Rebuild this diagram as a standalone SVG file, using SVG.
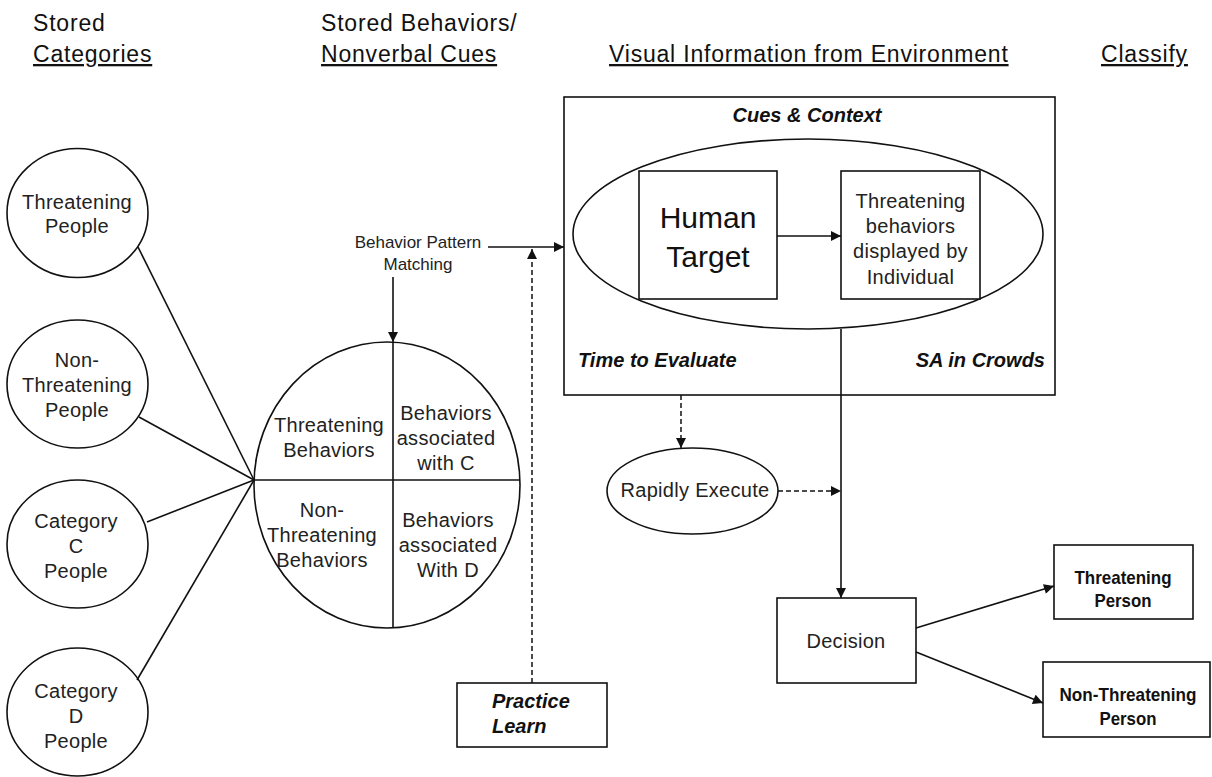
<svg xmlns="http://www.w3.org/2000/svg" width="1212" height="777" viewBox="0 0 1212 777">
  <style>
    .bg { fill: #ffffff; }
    .shape { fill: #ffffff; stroke: #111; stroke-width: 1.6; }
    .line { fill: none; stroke: #111; stroke-width: 1.6; }
    .dash { fill: none; stroke: #111; stroke-width: 1.5; stroke-dasharray: 5 3; }
    text { fill: #111; font-family: "Liberation Sans", Arial, sans-serif; }
    .head { font-size: 23px; letter-spacing: 0.8px; }
    .ul { text-decoration: underline; }
    .txt { font-size: 20px; letter-spacing: 0.3px; text-anchor: middle; fill: #222; }
    .big { font-size: 30px; text-anchor: middle; }
    .small { font-size: 17px; text-anchor: middle; fill: #222; }
    .bi { font-size: 20px; font-weight: bold; font-style: italic; }
    .bold { font-size: 19px; font-weight: bold; text-anchor: middle; }
  </style>
  <defs>
    <marker id="arrow" viewBox="0 0 10 10" refX="10" refY="5" markerWidth="11" markerHeight="10" markerUnits="userSpaceOnUse" orient="auto">
      <path d="M0,0 L10,5 L0,10 Z" fill="#111"/>
    </marker>
  </defs>

  <rect class="bg" x="0" y="0" width="1212" height="777"/>

  <!-- column headings -->
  <g id="headings">
    <text class="head" x="33" y="31">Stored</text>
    <text class="head ul" x="33" y="62">Categories</text>
    <text class="head" x="321" y="31">Stored Behaviors/</text>
    <text class="head ul" x="321" y="62">Nonverbal Cues</text>
    <text class="head ul" x="609" y="62">Visual Information from Environment</text>
    <text class="head ul" x="1101" y="62">Classify</text>
  </g>

  <!-- environment frame -->
  <g id="environment">
    <rect class="shape" x="564" y="97" width="491" height="298"/>
    <text class="bi" x="807" y="122" text-anchor="middle">Cues &amp; Context</text>
    <text class="bi" x="578" y="367">Time to Evaluate</text>
    <text class="bi" x="1045" y="367" text-anchor="end">SA in Crowds</text>
    <ellipse class="shape" cx="808" cy="234" rx="235" ry="95"/>
  </g>

  <g id="human-target">
    <rect class="shape" x="639" y="171" width="138" height="128"/>
    <text class="big" x="708" y="228">Human</text>
    <text class="big" x="708" y="267">Target</text>
  </g>

  <g id="threat-behaviors">
    <rect class="shape" x="841" y="171" width="139" height="128"/>
    <text class="txt" x="910.5" y="208">Threatening</text>
    <text class="txt" x="910.5" y="233">behaviors</text>
    <text class="txt" x="910.5" y="258">displayed by</text>
    <text class="txt" x="910.5" y="284">Individual</text>
  </g>

  <!-- stored categories -->
  <g id="cat-threatening">
    <ellipse class="shape" cx="77.5" cy="213" rx="70.5" ry="64.5"/>
    <text class="txt" x="77" y="209">Threatening</text>
    <text class="txt" x="77" y="233">People</text>
  </g>
  <g id="cat-nonthreatening">
    <ellipse class="shape" cx="77.5" cy="384" rx="70.5" ry="64"/>
    <text class="txt" x="77" y="367">Non-</text>
    <text class="txt" x="77" y="392">Threatening</text>
    <text class="txt" x="77" y="417">People</text>
  </g>
  <g id="cat-c">
    <ellipse class="shape" cx="77.5" cy="544" rx="70.5" ry="64"/>
    <text class="txt" x="76" y="528">Category</text>
    <text class="txt" x="76" y="553">C</text>
    <text class="txt" x="76" y="578">People</text>
  </g>
  <g id="cat-d">
    <ellipse class="shape" cx="77.5" cy="712" rx="70.5" ry="64"/>
    <text class="txt" x="76" y="698">Category</text>
    <text class="txt" x="76" y="723">D</text>
    <text class="txt" x="76" y="748">People</text>
  </g>

  <!-- stored behaviours, split in four -->
  <g id="behaviors">
    <ellipse class="shape" cx="387" cy="485" rx="133" ry="143"/>
    <line class="line" x1="254" y1="480" x2="520" y2="480"/>
    <line class="line" x1="393" y1="342" x2="393" y2="628"/>
    <text class="txt" x="329" y="432">Threatening</text>
    <text class="txt" x="329" y="457">Behaviors</text>
    <text class="txt" x="446" y="420">Behaviors</text>
    <text class="txt" x="446" y="445">associated</text>
    <text class="txt" x="446" y="470">with C</text>
    <text class="txt" x="322" y="517">Non-</text>
    <text class="txt" x="322" y="542">Threatening</text>
    <text class="txt" x="322" y="567">Behaviors</text>
    <text class="txt" x="448" y="527">Behaviors</text>
    <text class="txt" x="448" y="552">associated</text>
    <text class="txt" x="448" y="577">With D</text>
  </g>

  <g id="pattern-matching">
    <text class="small" x="418" y="248">Behavior Pattern</text>
    <text class="small" x="418" y="270">Matching</text>
  </g>

  <g id="rapidly-execute">
    <ellipse class="shape" cx="692.5" cy="491" rx="85.5" ry="43"/>
    <text class="txt" x="695" y="497">Rapidly Execute</text>
  </g>

  <g id="practice-learn">
    <rect class="shape" x="457" y="683" width="150" height="64"/>
    <text class="bi" x="492" y="708">Practice</text>
    <text class="bi" x="492" y="733">Learn</text>
  </g>

  <g id="decision">
    <rect class="shape" x="777" y="598" width="139" height="85"/>
    <text class="txt" x="846" y="648">Decision</text>
  </g>

  <g id="threatening-person">
    <rect class="shape" x="1054" y="545" width="139" height="74"/>
    <text class="bold" x="1123" y="584" textLength="97" lengthAdjust="spacingAndGlyphs">Threatening</text>
    <text class="bold" x="1123" y="607" textLength="57" lengthAdjust="spacingAndGlyphs">Person</text>
  </g>

  <g id="nonthreatening-person">
    <rect class="shape" x="1043" y="662" width="167" height="75"/>
    <text class="bold" x="1128" y="701" textLength="137" lengthAdjust="spacingAndGlyphs">Non-Threatening</text>
    <text class="bold" x="1128" y="725" textLength="57" lengthAdjust="spacingAndGlyphs">Person</text>
  </g>

  <!-- connectors -->
  <g id="connectors">
    <line class="line" x1="138" y1="247" x2="254" y2="480"/>
    <line class="line" x1="139" y1="417" x2="254" y2="480"/>
    <line class="line" x1="147" y1="522" x2="254" y2="480"/>
    <line class="line" x1="137" y1="680" x2="254" y2="480"/>
    <line class="line" x1="393" y1="277" x2="393" y2="342" marker-end="url(#arrow)"/>
    <line class="line" x1="488" y1="247" x2="564" y2="247" marker-end="url(#arrow)"/>
    <line class="dash" x1="532" y1="683" x2="532" y2="249" marker-end="url(#arrow)"/>
    <line class="line" x1="777" y1="236" x2="841" y2="236" marker-end="url(#arrow)"/>
    <line class="line" x1="841" y1="329" x2="841" y2="598" marker-end="url(#arrow)"/>
    <line class="dash" x1="681" y1="395" x2="681" y2="448" marker-end="url(#arrow)"/>
    <line class="dash" x1="778" y1="491" x2="841" y2="491" marker-end="url(#arrow)"/>
    <line class="line" x1="916" y1="628" x2="1054" y2="586" marker-end="url(#arrow)"/>
    <line class="line" x1="916" y1="652" x2="1043" y2="703" marker-end="url(#arrow)"/>
  </g>
</svg>
